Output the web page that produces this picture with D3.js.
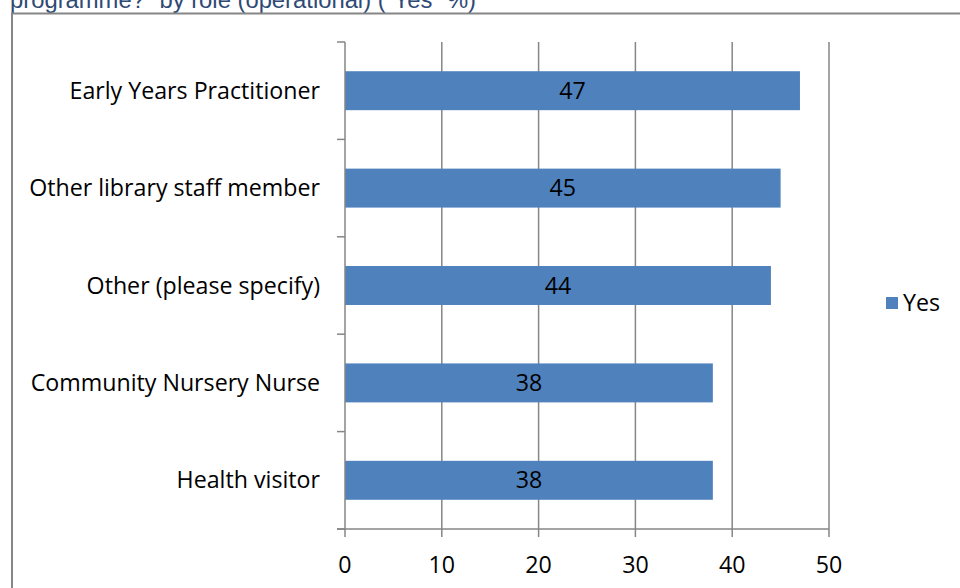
<!DOCTYPE html>
<html><head><meta charset="utf-8">
<script src="https://cdn.jsdelivr.net/npm/d3@7"></script>
<style>body{margin:0;background:#fff;} svg{display:block;}</style>
</head><body>
<svg id="c" width="960" height="588"></svg>
<script>
const categories = ["Early Years Practitioner","Other library staff member","Other (please specify)","Community Nursery Nurse","Health visitor"];
const yesValues = [47,45,44,38,38];
const xTicks = [0,10,20,30,40,50];
const seriesName = "Yes";
const titleText = "programme?\u201d by role (operational) (\u201cYes\u201d %)";

const svg = d3.select("#c");
const font = "'Open Sans', Lato, sans-serif";
const grey = "#868686";
const fs = 23.2;

svg.append("text").attr("x",10).attr("y",7.5).attr("font-family","'Liberation Sans', Arial, sans-serif")
  .attr("font-size",23.8).attr("fill","#2E4A75").text(titleText);

svg.append("rect").attr("x",12).attr("y",13.5).attr("width",960).attr("height",600)
  .attr("fill","none").attr("stroke",grey).attr("stroke-width",2);

const x = d3.scaleLinear().domain([0,50]).range([345,829]);
const y = d3.scaleBand().domain(categories).range([42,529]).paddingInner(0.6).paddingOuter(0.3);
const yb = d3.scaleBand().domain(categories).range([42,529]);

// grid
svg.append("g").selectAll("line").data(xTicks.slice(1)).join("line")
  .attr("x1",d=>x(d)).attr("x2",d=>x(d)).attr("y1",42).attr("y2",537)
  .attr("stroke",grey).attr("stroke-width",1.5);

// bars
svg.append("g").selectAll("rect").data(categories).join("rect")
  .attr("x",x(0)).attr("y",d=>y(d)).attr("width",(d,i)=>x(yesValues[i])-x(0)).attr("height",y.bandwidth())
  .attr("fill","#4F81BD");

// y axis
svg.append("line").attr("x1",x(0)).attr("x2",x(0)).attr("y1",42).attr("y2",537).attr("stroke",grey).attr("stroke-width",1.5);
const yTickPos = categories.map(c=>yb(c)).concat([529]);
svg.append("g").selectAll("line").data(yTickPos).join("line")
  .attr("x1",337).attr("x2",x(0)).attr("y1",d=>d).attr("y2",d=>d).attr("stroke",grey).attr("stroke-width",1.5);
// x axis
svg.append("line").attr("x1",337).attr("x2",x(50)).attr("y1",529).attr("y2",529).attr("stroke",grey).attr("stroke-width",1.5);

// category labels
svg.append("g").selectAll("text").data(categories).join("text")
  .attr("x",320).attr("y",d=>yb(d)+yb.bandwidth()/2).attr("dy","0.35em").attr("text-anchor","end")
  .attr("font-family",font).attr("font-size",fs).attr("fill","#000").text(d=>d);

// value labels
svg.append("g").selectAll("text").data(categories).join("text")
  .attr("x",(d,i)=>(x(0)+x(yesValues[i]))/2).attr("y",d=>yb(d)+yb.bandwidth()/2).attr("dy","0.35em").attr("text-anchor","middle")
  .attr("font-family",font).attr("font-size",fs).attr("fill","#000").text((d,i)=>yesValues[i]);

// x tick labels
svg.append("g").selectAll("text").data(xTicks).join("text")
  .attr("x",d=>x(d)).attr("y",565).attr("dy","0.35em").attr("text-anchor","middle")
  .attr("font-family",font).attr("font-size",fs).attr("fill","#000").text(d=>d);

// legend
svg.append("rect").attr("x",886).attr("y",297).attr("width",12).attr("height",12).attr("fill","#4F81BD");
svg.append("text").attr("x",903).attr("y",303).attr("dy","0.35em").attr("font-family",font).attr("font-size",fs).attr("fill","#000").text(seriesName);
</script>
</body></html>
